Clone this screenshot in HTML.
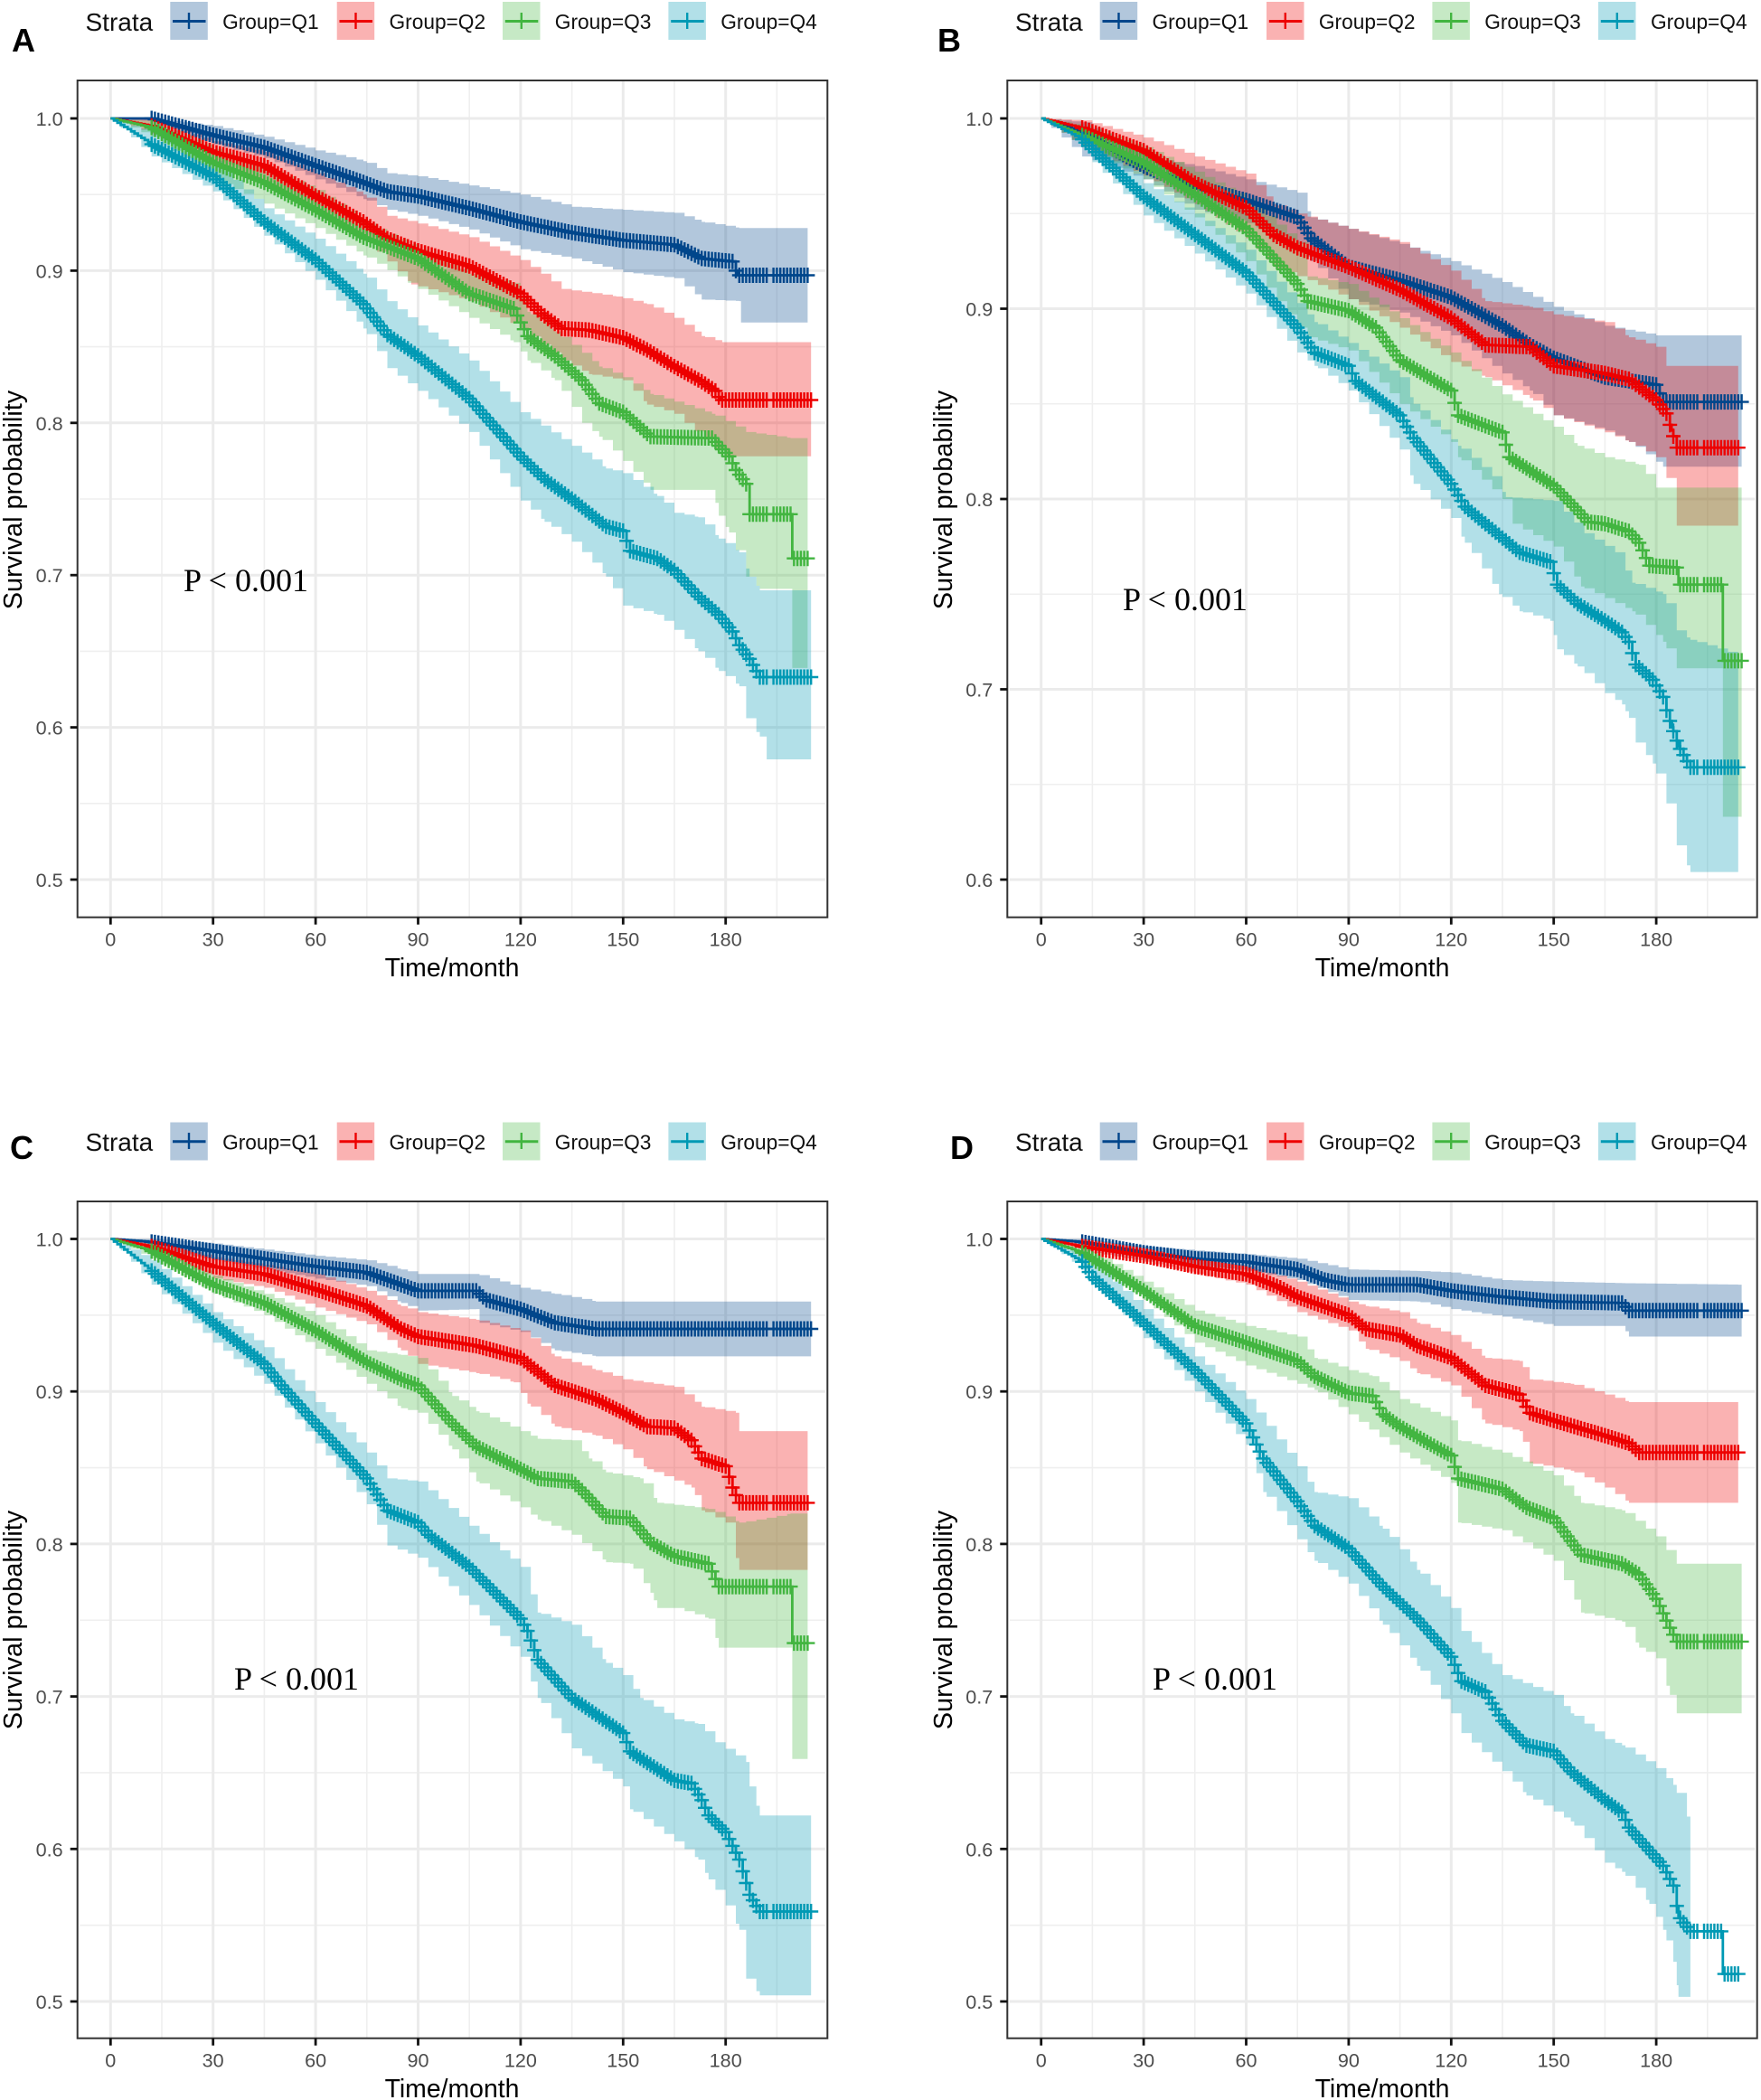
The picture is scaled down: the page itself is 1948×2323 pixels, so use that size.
<!DOCTYPE html>
<html lang="en">
<head>
<meta charset="utf-8">
<title>Survival curves by group</title>
<style>
html,body{margin:0;padding:0;background:#fff;width:1948px;height:2323px;overflow:hidden}
svg{display:block;font-family:"Liberation Sans",sans-serif}
.lg{font-size:22.7px;fill:#111}
.st{font-size:28px;fill:#111}
.xt{font-size:28.4px;fill:#000;text-anchor:middle}
.yt{font-size:28.9px;fill:#000;text-anchor:middle}
.pl{font-size:36px;font-weight:bold;fill:#000}
.pv{font-family:"Liberation Serif",serif;font-size:36px;fill:#000}
</style>
</head>
<body>
<svg id="figure" xmlns="http://www.w3.org/2000/svg" width="1948" height="2323" viewBox="0 0 1948 2323">
<rect width="1948" height="2323" fill="#fff"/>
<g id="charts"></g>

<g>
<text class="st" x="94.5" y="34">Strata</text>
<g><rect x="188.3" y="2" width="41.5" height="42" fill="#00468B" fill-opacity=".3"/><path d="M191 23.5H227.5" stroke="#00468B" stroke-width="3" fill="none"/><path d="M209 14V32" stroke="#00468B" stroke-width="2.4" fill="none"/><text class="lg" x="246.1" y="32">Group=Q1</text></g>
<g><rect x="372.7" y="2" width="41.5" height="42" fill="#ED0000" fill-opacity=".3"/><path d="M375.5 23.5H412" stroke="#ED0000" stroke-width="3" fill="none"/><path d="M393.5 14V32" stroke="#ED0000" stroke-width="2.4" fill="none"/><text class="lg" x="430.5" y="32">Group=Q2</text></g>
<g><rect x="556" y="2" width="41.5" height="42" fill="#42B540" fill-opacity=".3"/><path d="M558.8 23.5H595.3" stroke="#42B540" stroke-width="3" fill="none"/><path d="M576.8 14V32" stroke="#42B540" stroke-width="2.4" fill="none"/><text class="lg" x="613.8" y="32">Group=Q3</text></g>
<g><rect x="739.4" y="2" width="41.5" height="42" fill="#0099B4" fill-opacity=".3"/><path d="M742.2 23.5H778.7" stroke="#0099B4" stroke-width="3" fill="none"/><path d="M760.2 14V32" stroke="#0099B4" stroke-width="2.4" fill="none"/><text class="lg" x="797.2" y="32">Group=Q4</text></g>
</g>
<g>
<text class="st" x="1123" y="34">Strata</text>
<g><rect x="1216.7" y="2" width="41.5" height="42" fill="#00468B" fill-opacity=".3"/><path d="M1219.5 23.5H1256" stroke="#00468B" stroke-width="3" fill="none"/><path d="M1237.5 14V32" stroke="#00468B" stroke-width="2.4" fill="none"/><text class="lg" x="1274.5" y="32">Group=Q1</text></g>
<g><rect x="1401" y="2" width="41.5" height="42" fill="#ED0000" fill-opacity=".3"/><path d="M1403.8 23.5H1440.3" stroke="#ED0000" stroke-width="3" fill="none"/><path d="M1421.8 14V32" stroke="#ED0000" stroke-width="2.4" fill="none"/><text class="lg" x="1458.9" y="32">Group=Q2</text></g>
<g><rect x="1584.4" y="2" width="41.5" height="42" fill="#42B540" fill-opacity=".3"/><path d="M1587.2 23.5H1623.7" stroke="#42B540" stroke-width="3" fill="none"/><path d="M1605.2 14V32" stroke="#42B540" stroke-width="2.4" fill="none"/><text class="lg" x="1642.2" y="32">Group=Q3</text></g>
<g><rect x="1768" y="2" width="41.5" height="42" fill="#0099B4" fill-opacity=".3"/><path d="M1770.8 23.5H1807.3" stroke="#0099B4" stroke-width="3" fill="none"/><path d="M1788.8 14V32" stroke="#0099B4" stroke-width="2.4" fill="none"/><text class="lg" x="1826" y="32">Group=Q4</text></g>
</g>
<g>
<text class="st" x="94.5" y="1273">Strata</text>
<g><rect x="188.3" y="1241.5" width="41.5" height="42" fill="#00468B" fill-opacity=".3"/><path d="M191 1262.7H227.5" stroke="#00468B" stroke-width="3" fill="none"/><path d="M209 1253V1271" stroke="#00468B" stroke-width="2.4" fill="none"/><text class="lg" x="246.1" y="1271.5">Group=Q1</text></g>
<g><rect x="372.7" y="1241.5" width="41.5" height="42" fill="#ED0000" fill-opacity=".3"/><path d="M375.5 1262.7H412" stroke="#ED0000" stroke-width="3" fill="none"/><path d="M393.5 1253V1271" stroke="#ED0000" stroke-width="2.4" fill="none"/><text class="lg" x="430.5" y="1271.5">Group=Q2</text></g>
<g><rect x="556" y="1241.5" width="41.5" height="42" fill="#42B540" fill-opacity=".3"/><path d="M558.8 1262.7H595.3" stroke="#42B540" stroke-width="3" fill="none"/><path d="M576.8 1253V1271" stroke="#42B540" stroke-width="2.4" fill="none"/><text class="lg" x="613.8" y="1271.5">Group=Q3</text></g>
<g><rect x="739.4" y="1241.5" width="41.5" height="42" fill="#0099B4" fill-opacity=".3"/><path d="M742.2 1262.7H778.7" stroke="#0099B4" stroke-width="3" fill="none"/><path d="M760.2 1253V1271" stroke="#0099B4" stroke-width="2.4" fill="none"/><text class="lg" x="797.2" y="1271.5">Group=Q4</text></g>
</g>
<g>
<text class="st" x="1123" y="1273">Strata</text>
<g><rect x="1216.7" y="1241.5" width="41.5" height="42" fill="#00468B" fill-opacity=".3"/><path d="M1219.5 1262.7H1256" stroke="#00468B" stroke-width="3" fill="none"/><path d="M1237.5 1253V1271" stroke="#00468B" stroke-width="2.4" fill="none"/><text class="lg" x="1274.5" y="1271.5">Group=Q1</text></g>
<g><rect x="1401" y="1241.5" width="41.5" height="42" fill="#ED0000" fill-opacity=".3"/><path d="M1403.8 1262.7H1440.3" stroke="#ED0000" stroke-width="3" fill="none"/><path d="M1421.8 1253V1271" stroke="#ED0000" stroke-width="2.4" fill="none"/><text class="lg" x="1458.9" y="1271.5">Group=Q2</text></g>
<g><rect x="1584.4" y="1241.5" width="41.5" height="42" fill="#42B540" fill-opacity=".3"/><path d="M1587.2 1262.7H1623.7" stroke="#42B540" stroke-width="3" fill="none"/><path d="M1605.2 1253V1271" stroke="#42B540" stroke-width="2.4" fill="none"/><text class="lg" x="1642.2" y="1271.5">Group=Q3</text></g>
<g><rect x="1768" y="1241.5" width="41.5" height="42" fill="#0099B4" fill-opacity=".3"/><path d="M1770.8 1262.7H1807.3" stroke="#0099B4" stroke-width="3" fill="none"/><path d="M1788.8 1253V1271" stroke="#0099B4" stroke-width="2.4" fill="none"/><text class="lg" x="1826" y="1271.5">Group=Q4</text></g>
</g>

<text class="pl" x="13" y="57">A</text>
<text class="pl" x="1037" y="57">B</text>
<text class="pl" x="11" y="1282">C</text>
<text class="pl" x="1051" y="1282">D</text>

<text class="xt" x="500" y="1080">Time/month</text>
<text class="xt" x="1529" y="1080">Time/month</text>
<text class="xt" x="500" y="2320">Time/month</text>
<text class="xt" x="1529" y="2320">Time/month</text>

<text class="yt" transform="translate(24 553) rotate(-90)">Survival probability</text>
<text class="yt" transform="translate(1053 553) rotate(-90)">Survival probability</text>
<text class="yt" transform="translate(24 1792) rotate(-90)">Survival probability</text>
<text class="yt" transform="translate(1053 1792) rotate(-90)">Survival probability</text>

<text class="pv" x="203" y="654">P &lt; 0.001</text>
<text class="pv" x="1242" y="675">P &lt; 0.001</text>
<text class="pv" x="259" y="1869">P &lt; 0.001</text>
<text class="pv" x="1275" y="1869">P &lt; 0.001</text>
</svg>

<script>
const xTickValues=[0,30,60,90,120,150,180];
const xMinorValues=[15,45,75,105,135,165,195];
const yTicksWide=[0.5,0.6,0.7,0.8,0.9,1.0];
const yTicksNarrow=[0.6,0.7,0.8,0.9,1.0];
const censorTimes=[12,13,14,15,16,17,18,19,20,21,22,23,24,25,26,27,28,29,30,31,32,33,34,35,36,37,38,39,40,41,42,43,44,45,46,47,48,49,50,51,52,53,54,55,56,57,58,59,60,61,62,63,64,65,66,67,68,69,70,71,72,73,74,75,76,77,78,79,80,81,82,83,84,85,86,87,88,89,90,91,92,93,94,95,96,97,98,99,100,101,102,103,104,105,106,107,108,109,110,111,112,113,114,115,116,117,118,119,120,121,122,123,124,125,126,127,128,129,130,131,132,133,134,135,136,137,138,139,140,141,142,143,144,145,146,147,148,149,150,151,152,153,154,155,156,157,158,159,160,161,162,163,164,165,166,167,168,169,170,171,172,173,174,175,176,177,178,179,180,181,182,183,184,185,186,187,188,189,190,191,192,194,195,196,197,198,199,200,201,202,203,204,205];

/* Panel A */
const aQ1Time=[0,12,30,45,60,74,81,90,105,120,135,150,165,173,182,183.5,204];
const aQ1Surv=[1,1,.989,.981,.969,.958,.952,.949,.941,.932,.925,.92,.917,.908,.906,.897,.897];
const aQ1UpperTime=[0,12,30,45,60,74,81,90,105,120,135,150,165,173,184,204];
const aQ1Upper=[1,1,.995,.988,.979,.972,.964,.962,.956,.95,.942,.94,.938,.932,.928,.928];
const aQ1LowerTime=[0,12,30,45,60,74,81,90,105,120,135,150,165,173,184,184.5,204];
const aQ1Lower=[1,.998,.983,.974,.96,.947,.94,.936,.927,.914,.908,.899,.895,.881,.88,.866,.866];

const aQ2Time=[0,12,30,45,60,74,81,90,105,120,126,132,140,150,157,165,173,177,178.5,205];
const aQ2Surv=[1,.995,.978,.969,.949,.932,.921,.913,.903,.885,.872,.862,.861,.856,.848,.837,.827,.821,.815,.815];
const aQ2UpperTime=[0,12,30,45,60,74,81,90,105,120,126,132,148,157,165,173,179,205];
const aQ2Upper=[1,.999,.985,.978,.964,.95,.936,.931,.922,.907,.898,.888,.883,.878,.869,.857,.853,.853];
const aQ2LowerTime=[0,12,30,45,60,74,88,105,120,132,140,150,157,165,168,180,205];
const aQ2Lower=[1,.99,.97,.958,.937,.921,.891,.88,.862,.841,.832,.828,.812,.806,.8,.778,.778];

const aQ3Time=[0,12,30,45,60,74,90,105,118,122,130,138,143,150,158,176,178,181,183,186,187,199,199.5,204];
const aQ3Surv=[1,.994,.971,.958,.94,.922,.908,.885,.875,.857,.844,.828,.813,.807,.791,.79,.785,.778,.769,.76,.74,.74,.711,.711];
const aQ3UpperTime=[0,12,30,45,60,74,90,105,118,122,130,138,143,150,158,176,186,199,204];
const aQ3Upper=[1,.998,.98,.968,.953,.932,.914,.898,.892,.873,.86,.846,.837,.83,.819,.806,.794,.79,.79];
const aQ3LowerTime=[0,12,30,45,60,74,90,105,118,122,130,138,143,150,158,176,178,181,186,190,199,199.5,204];
const aQ3Lower=[1,.988,.96,.944,.928,.91,.888,.869,.853,.841,.828,.8,.791,.775,.756,.756,.739,.728,.699,.691,.691,.639,.639];

const aQ4Time=[0,12,30,45,60,74,81,90,105,120,127,135,145,150,152,160,165,172,178,182,184,187,190,205];
const aQ4Surv=[1,.983,.962,.932,.907,.878,.858,.844,.816,.778,.763,.75,.732,.729,.716,.711,.703,.686,.674,.663,.654,.645,.633,.633];
const aQ4UpperTime=[0,12,30,45,60,74,81,90,105,120,135,145,150,160,165,172,178,184,187,190,205];
const aQ4Upper=[1,.991,.972,.941,.921,.898,.88,.864,.841,.807,.785,.77,.767,.752,.741,.738,.724,.715,.699,.69,.69];
const aQ4LowerTime=[0,12,30,45,60,74,81,90,105,120,127,135,145,150,160,165,172,178,184,186,190,192,205];
const aQ4Lower=[1,.975,.952,.923,.894,.862,.836,.821,.794,.749,.735,.722,.699,.68,.674,.664,.65,.637,.627,.606,.594,.579,.579];

/* Panel B */
const bQ1Time=[0,12,30,45,60,75,79,90,105,120,135,143,150,165,180,182,205];
const bQ1Surv=[1,.993,.975,.964,.957,.948,.937,.922,.915,.906,.891,.881,.874,.864,.86,.851,.851];
const bQ1UpperTime=[0,12,30,45,60,75,79,90,105,120,135,150,165,180,205];
const bQ1Upper=[1,.998,.98,.975,.968,.961,.948,.942,.934,.925,.914,.901,.891,.886,.886];
const bQ1LowerTime=[0,12,30,45,60,75,79,90,105,120,135,143,150,165,172,182,205];
const bQ1Lower=[1,.98,.968,.952,.945,.934,.925,.905,.898,.886,.866,.857,.844,.836,.83,.817,.817];

const bQ2Time=[0,12,30,45,60,68,75,90,105,120,130,143,150,165,172,180,183,184.5,186,204];
const bQ2Surv=[1,.995,.983,.966,.953,.939,.932,.922,.91,.895,.881,.88,.87,.866,.863,.852,.845,.836,.827,.827];
const bQ2UpperTime=[0,12,30,45,60,68,75,90,105,120,130,143,150,165,172,180,183,204];
const bQ2Upper=[1,.999,.99,.98,.971,.955,.95,.942,.935,.92,.904,.901,.897,.893,.885,.88,.87,.87];
const bQ2LowerTime=[0,12,30,45,60,68,78,90,105,120,130,143,150,165,172,180,183,186,204];
const bQ2Lower=[1,.985,.97,.955,.937,.922,.915,.905,.89,.872,.864,.853,.844,.835,.83,.822,.811,.786,.786];

const bQ3Time=[0,12,30,45,60,75,78,90,98,105,120,122,135,137,150,157,160,165,172,175,178,186,186.5,199,199.5,205];
const bQ3Surv=[1,.991,.977,.96,.942,.913,.904,.899,.89,.873,.857,.844,.835,.822,.807,.794,.788,.787,.783,.777,.765,.764,.755,.755,.715,.715];
const bQ3UpperTime=[0,12,30,45,60,75,78,90,105,120,135,150,157,165,175,180,205];
const bQ3Upper=[1,.996,.985,.972,.958,.935,.917,.913,.895,.877,.855,.838,.828,.822,.818,.806,.806];
const bQ3LowerTime=[0,12,30,45,60,75,78,90,105,120,122,135,138,150,158,173,182,186,199,199.5,205];
const bQ3Lower=[1,.985,.968,.948,.925,.89,.885,.878,.85,.83,.822,.8,.787,.775,.754,.741,.725,.711,.711,.633,.633];

const bQ4Time=[0,12,15,30,45,60,75,80,90,92,105,109,120,124,134,140,149,151,157,165,170,172,174,179,182,183,184.6,186.6,190,204];
const bQ4Surv=[1,.989,.984,.959,.939,.919,.89,.877,.87,.862,.844,.832,.808,.796,.781,.772,.767,.755,.745,.736,.73,.725,.713,.705,.696,.689,.68,.67,.659,.659];
const bQ4UpperTime=[0,12,15,30,45,60,75,80,90,105,109,122,132,136,150,159,168,173,182,186,190,204];
const bQ4Upper=[1,.993,.99,.966,.95,.931,.903,.893,.882,.864,.85,.828,.812,.801,.799,.782,.772,.756,.75,.731,.726,.718];
const bQ4LowerTime=[0,12,15,30,45,60,75,80,90,105,109,120,124,134,140,149,151,157,165,170,172,174,179,183,186,190,204];
const bQ4Lower=[1,.985,.977,.949,.929,.908,.877,.87,.857,.826,.808,.79,.777,.75,.741,.736,.721,.712,.698,.692,.685,.672,.661,.64,.618,.604,.604];

/* Panel C */
const cQ1Time=[0,12,30,45,60,75,85,90,107,110,120,130,142,205];
const cQ1Surv=[1,.998,.992,.987,.982,.978,.97,.966,.966,.96,.954,.945,.941,.941];
const cQ1UpperTime=[0,12,30,60,75,85,90,107,120,130,142,205];
const cQ1Upper=[1,1,.997,.989,.986,.98,.977,.977,.968,.964,.959,.959];
const cQ1LowerTime=[0,12,30,45,60,75,85,90,107,108,120,130,142,205];
const cQ1Lower=[1,.994,.986,.98,.974,.969,.958,.953,.954,.945,.939,.927,.923,.923];

const cQ2Time=[0,12,30,45,60,75,85,90,107,120,130,142,150,157,165,170,173,180,182,184,204];
const cQ2Surv=[1,.995,.982,.977,.967,.956,.941,.936,.93,.922,.904,.895,.886,.877,.876,.868,.856,.851,.837,.827,.827];
const cQ2UpperTime=[0,12,30,45,60,75,85,90,107,120,130,142,150,165,173,183,184,204];
const cQ2Upper=[1,.998,.988,.983,.977,.966,.956,.952,.947,.94,.923,.914,.908,.903,.89,.886,.874,.874];
const cQ2LowerTime=[0,12,30,45,60,75,85,90,107,118,122,130,142,150,157,170,173,180,184,204];
const cQ2Lower=[1,.991,.974,.968,.955,.944,.927,.918,.912,.906,.892,.877,.871,.862,.849,.837,.822,.814,.783,.783];

const cQ3Time=[0,12,30,45,60,75,85,90,100,107,120,125,135,138,145,152,158,165,175,178,199,199.5,204];
const cQ3Surv=[1,.992,.97,.958,.94,.919,.908,.904,.879,.864,.849,.843,.841,.835,.818,.817,.801,.792,.787,.772,.772,.735,.735];
const cQ3UpperTime=[0,12,30,45,60,75,85,90,100,107,120,125,135,140,145,155,160,175,184,199,204];
const cQ3Upper=[1,.996,.976,.964,.95,.927,.924,.922,.897,.887,.874,.869,.868,.856,.847,.843,.827,.823,.814,.82,.82];
const cQ3LowerTime=[0,12,30,45,60,75,85,90,100,107,120,125,135,145,152,158,160,165,175,178,199,199.5,204];
const cQ3Lower=[1,.987,.964,.95,.928,.905,.889,.886,.862,.841,.824,.816,.806,.788,.787,.768,.758,.758,.751,.732,.732,.659,.659];

const cQ4Time=[0,12,30,45,50,60,75,81,90,93,105,120,122,125,135,150,152,165,170,173,175,180,184,187,190,205];
const cQ4Surv=[1,.979,.945,.918,.904,.879,.843,.822,.814,.806,.785,.751,.743,.724,.699,.676,.664,.645,.643,.632,.622,.611,.593,.57,.559,.559];
const cQ4UpperTime=[0,12,30,45,60,75,81,90,105,120,125,135,145,150,155,165,172,177,186,187,190,205];
const cQ4Upper=[1,.986,.952,.929,.893,.86,.843,.841,.812,.785,.755,.747,.722,.714,.699,.685,.682,.67,.657,.641,.622,.622];
const cQ4LowerTime=[0,12,30,45,60,75,81,90,105,120,125,135,150,152,165,172,175,180,184,186,190,205];
const cQ4Lower=[1,.97,.932,.905,.866,.826,.799,.791,.76,.726,.699,.666,.641,.626,.605,.593,.58,.563,.547,.515,.504,.504];

/* Panel D */
const dQ1Time=[0,12,30,45,60,75,83,90,110,120,135,150,170,172,205];
const dQ1Surv=[1,.998,.991,.987,.985,.98,.973,.97,.97,.966,.962,.959,.958,.953,.953];
const dQ1UpperTime=[0,12,30,60,75,90,110,120,135,150,170,205];
const dQ1Upper=[1,1,.995,.99,.987,.98,.979,.978,.973,.972,.971,.97];
const dQ1LowerTime=[0,12,30,60,75,90,110,120,135,150,170,172,205];
const dQ1Lower=[1,.995,.987,.979,.973,.96,.959,.954,.949,.943,.943,.936,.936];

const dQ2Time=[0,12,30,45,60,70,75,90,95,105,110,120,130,140,143,150,165,172,175,204];
const dQ2Surv=[1,.995,.989,.982,.977,.968,.962,.95,.941,.937,.93,.922,.904,.898,.886,.881,.871,.866,.86,.86];
const dQ2UpperTime=[0,12,30,45,60,75,90,95,105,110,120,130,140,143,155,165,172,204];
const dQ2Upper=[1,.998,.993,.987,.982,.972,.959,.956,.952,.945,.937,.922,.92,.908,.905,.898,.893,.893];
const dQ2LowerTime=[0,12,30,45,60,75,90,95,105,110,120,130,140,143,155,165,172,204];
const dQ2Lower=[1,.992,.985,.977,.97,.952,.94,.928,.92,.912,.904,.879,.874,.853,.848,.837,.827,.827];

const dQ3Time=[0,12,30,45,60,75,80,90,97,100,105,115,120,122,135,142,150,158,170,175,180,184,186,205];
const dQ3Surv=[1,.991,.966,.943,.932,.92,.91,.899,.897,.885,.877,.864,.858,.843,.836,.824,.817,.793,.787,.78,.764,.745,.736,.736];
const dQ3UpperTime=[0,12,30,45,60,75,80,90,97,105,120,122,135,150,158,170,180,186,205];
const dQ3Upper=[1,.995,.972,.953,.943,.936,.922,.914,.91,.895,.881,.868,.86,.845,.827,.822,.805,.787,.787];
const dQ3LowerTime=[0,12,30,45,60,75,80,90,105,120,122,135,150,158,170,175,180,184,186,205];
const dQ3Lower=[1,.987,.96,.932,.917,.905,.901,.885,.86,.84,.814,.809,.789,.755,.749,.732,.725,.701,.689,.689];

const dQ4Time=[0,12,15,30,45,60,65,75,80,90,100,110,120,123,130,135,142,150,155,165,170,172,178,182,185,186.5,190,199,199.5,204];
const dQ4Surv=[1,.985,.975,.945,.914,.879,.856,.828,.812,.797,.772,.751,.726,.71,.703,.684,.668,.664,.651,.632,.624,.614,.599,.589,.576,.556,.546,.546,.518,.518];
const dQ4UpperTime=[0,12,30,45,60,75,80,90,100,110,120,123,135,150,155,165,170,180,185,190];
const dQ4Upper=[1,.99,.954,.923,.895,.851,.834,.83,.81,.783,.758,.743,.714,.701,.689,.672,.668,.653,.642,.616];
const dQ4LowerTime=[0,12,30,45,60,65,75,80,90,100,110,120,123,135,142,155,165,170,178,182,185,186.5,190];
const dQ4Lower=[1,.98,.935,.9,.865,.834,.803,.789,.774,.747,.72,.689,.676,.651,.635,.618,.591,.585,.564,.547,.526,.503,.503];

const seriesColors={q1:'#00468B',q2:'#ED0000',q3:'#42B540',q4:'#0099B4'};

const NS='http://www.w3.org/2000/svg';
const chartsRoot=document.getElementById('charts');

function mk(parent,tag,attrs){
  const el=document.createElementNS(NS,tag);
  for(const k in attrs) el.setAttribute(k,attrs[k]);
  parent.appendChild(el);
  return el;
}
function interp(ts,vs,t){
  if(t<=ts[0]) return vs[0];
  for(let i=1;i<ts.length;i++){
    if(t<=ts[i]){
      const f=(t-ts[i-1])/(ts[i]-ts[i-1]);
      return vs[i-1]+f*(vs[i]-vs[i-1]);
    }
  }
  return vs[vs.length-1];
}
function sampleGrid(ts,end,step){
  const set=new Set(ts.filter(t=>t<=end));
  for(let t=0;t<end;t+=step) set.add(t);
  set.add(end);
  return Array.from(set).sort((a,b)=>a-b);
}
function stairPoints(ts,vs,end,step,xs,ys){
  const grid=sampleGrid(ts,end,step);
  const pts=[];
  let last=interp(ts,vs,grid[0]);
  pts.push([xs(grid[0]),ys(last)]);
  for(let i=1;i<grid.length;i++){
    const v=interp(ts,vs,grid[i]);
    pts.push([xs(grid[i]),ys(last)]);
    pts.push([xs(grid[i]),ys(v)]);
    last=v;
  }
  return pts;
}
function toD(pts){return 'M'+pts.map(p=>p[0].toFixed(1)+' '+p[1].toFixed(1)).join('L');}

function drawPanel(p){
  const xs=t=>p.x0+t*p.kx;
  const ys=v=>p.y1+(1-v)*p.ky;
  const g=mk(chartsRoot,'g',{});
  
  

  const gridL=p.left+2.5, gridR=p.right-2.5;
  const grid=mk(g,'g',{});
  
  
  xMinorValues.forEach(t=>mk(grid,'line',{x1:xs(t),x2:xs(t),y1:p.top,y2:p.bottom,stroke:'#efefef','stroke-width':1.6}));
  p.yTicks.forEach(v=>{
    const y=ys(v-0.05);
    if(y<p.bottom) mk(grid,'line',{x1:gridL,x2:gridR,y1:y,y2:y,stroke:'#efefef','stroke-width':1.6});
  });
  xTickValues.forEach(t=>mk(grid,'line',{x1:xs(t),x2:xs(t),y1:p.top,y2:p.bottom,stroke:'#ebebeb','stroke-width':3}));
  p.yTicks.forEach(v=>mk(grid,'line',{x1:gridL,x2:gridR,y1:ys(v),y2:ys(v),stroke:'#ebebeb','stroke-width':3}));

  p.series.forEach(s=>{
    const up=stairPoints(s.upperTime,s.upper,s.bandEnd,3,xs,ys);
    const lo=stairPoints(s.lowerTime,s.lower,s.bandEnd,3,xs,ys).reverse();
    const band=mk(g,'path',{d:toD(up.concat(lo))+'Z',fill:seriesColors[s.key],'fill-opacity':0.3,stroke:'none'});
    
    
  });

  p.series.forEach(s=>{
    const lineEnd=s.time[s.time.length-1];
    const line=mk(g,'path',{d:toD(stairPoints(s.time,s.surv,lineEnd,1,xs,ys)),fill:'none',stroke:seriesColors[s.key],'stroke-width':2.8});
    
    
    let d='';
    censorTimes.filter(t=>t<=lineEnd).forEach(t=>{
      const x=xs(t),y=ys(interp(s.time,s.surv,t));
      d+=`M${(x-8).toFixed(1)} ${y.toFixed(1)}H${(x+8).toFixed(1)}M${x.toFixed(1)} ${(y-8.5).toFixed(1)}V${(y+8.5).toFixed(1)}`;
    });
    const marks=mk(g,'path',{d:d,fill:'none',stroke:seriesColors[s.key],'stroke-width':2.4});
    
    
  });

  const frame=mk(g,'rect',{x:p.left,y:p.top,width:p.right-p.left,height:p.bottom-p.top,fill:'none',stroke:'#333','stroke-width':2});
  
  

  xTickValues.forEach(t=>{
    mk(g,'line',{x1:xs(t),x2:xs(t),y1:p.bottom,y2:p.bottom+8,stroke:'#111','stroke-width':2.8});
    const lab=mk(g,'text',{x:xs(t),y:p.bottom+32,'text-anchor':'middle','font-size':21.6,fill:'#4d4d4d'});
    lab.textContent=String(t);
    
    
  });
  p.yTicks.forEach(v=>{
    mk(g,'line',{x1:p.left-8,x2:p.left,y1:ys(v),y2:ys(v),stroke:'#111','stroke-width':2.8});
    const lab=mk(g,'text',{x:p.left-16,y:ys(v)+8,'text-anchor':'end','font-size':21.6,fill:'#4d4d4d'});
    lab.textContent=v.toFixed(1);
    
    
  });
}

drawPanel({id:'a',left:85.7,right:915.3,top:89,bottom:1014.7,x0:122.3,kx:3.78,y1:131,ky:1684,yTicks:yTicksWide,series:[
 {key:'q1',time:aQ1Time,surv:aQ1Surv,upperTime:aQ1UpperTime,upper:aQ1Upper,lowerTime:aQ1LowerTime,lower:aQ1Lower,bandEnd:204},
 {key:'q2',time:aQ2Time,surv:aQ2Surv,upperTime:aQ2UpperTime,upper:aQ2Upper,lowerTime:aQ2LowerTime,lower:aQ2Lower,bandEnd:205},
 {key:'q3',time:aQ3Time,surv:aQ3Surv,upperTime:aQ3UpperTime,upper:aQ3Upper,lowerTime:aQ3LowerTime,lower:aQ3Lower,bandEnd:204},
 {key:'q4',time:aQ4Time,surv:aQ4Surv,upperTime:aQ4UpperTime,upper:aQ4Upper,lowerTime:aQ4LowerTime,lower:aQ4Lower,bandEnd:205}]});
drawPanel({id:'b',left:1114.3,right:1943.7,top:89,bottom:1014.7,x0:1151.7,kx:3.78,y1:131,ky:2105,yTicks:yTicksNarrow,series:[
 {key:'q1',time:bQ1Time,surv:bQ1Surv,upperTime:bQ1UpperTime,upper:bQ1Upper,lowerTime:bQ1LowerTime,lower:bQ1Lower,bandEnd:205},
 {key:'q2',time:bQ2Time,surv:bQ2Surv,upperTime:bQ2UpperTime,upper:bQ2Upper,lowerTime:bQ2LowerTime,lower:bQ2Lower,bandEnd:204},
 {key:'q3',time:bQ3Time,surv:bQ3Surv,upperTime:bQ3UpperTime,upper:bQ3Upper,lowerTime:bQ3LowerTime,lower:bQ3Lower,bandEnd:205},
 {key:'q4',time:bQ4Time,surv:bQ4Surv,upperTime:bQ4UpperTime,upper:bQ4Upper,lowerTime:bQ4LowerTime,lower:bQ4Lower,bandEnd:204}]});
drawPanel({id:'c',left:85.7,right:915.3,top:1329,bottom:2254.7,x0:122.3,kx:3.78,y1:1370.5,ky:1687,yTicks:yTicksWide,series:[
 {key:'q1',time:cQ1Time,surv:cQ1Surv,upperTime:cQ1UpperTime,upper:cQ1Upper,lowerTime:cQ1LowerTime,lower:cQ1Lower,bandEnd:205},
 {key:'q2',time:cQ2Time,surv:cQ2Surv,upperTime:cQ2UpperTime,upper:cQ2Upper,lowerTime:cQ2LowerTime,lower:cQ2Lower,bandEnd:204},
 {key:'q3',time:cQ3Time,surv:cQ3Surv,upperTime:cQ3UpperTime,upper:cQ3Upper,lowerTime:cQ3LowerTime,lower:cQ3Lower,bandEnd:204},
 {key:'q4',time:cQ4Time,surv:cQ4Surv,upperTime:cQ4UpperTime,upper:cQ4Upper,lowerTime:cQ4LowerTime,lower:cQ4Lower,bandEnd:205}]});
drawPanel({id:'d',left:1114.3,right:1943.7,top:1329,bottom:2254.7,x0:1151.7,kx:3.78,y1:1370.5,ky:1687,yTicks:yTicksWide,series:[
 {key:'q1',time:dQ1Time,surv:dQ1Surv,upperTime:dQ1UpperTime,upper:dQ1Upper,lowerTime:dQ1LowerTime,lower:dQ1Lower,bandEnd:205},
 {key:'q2',time:dQ2Time,surv:dQ2Surv,upperTime:dQ2UpperTime,upper:dQ2Upper,lowerTime:dQ2LowerTime,lower:dQ2Lower,bandEnd:204},
 {key:'q3',time:dQ3Time,surv:dQ3Surv,upperTime:dQ3UpperTime,upper:dQ3Upper,lowerTime:dQ3LowerTime,lower:dQ3Lower,bandEnd:205},
 {key:'q4',time:dQ4Time,surv:dQ4Surv,upperTime:dQ4UpperTime,upper:dQ4Upper,lowerTime:dQ4LowerTime,lower:dQ4Lower,bandEnd:190}]});
</script>
</body>
</html>
